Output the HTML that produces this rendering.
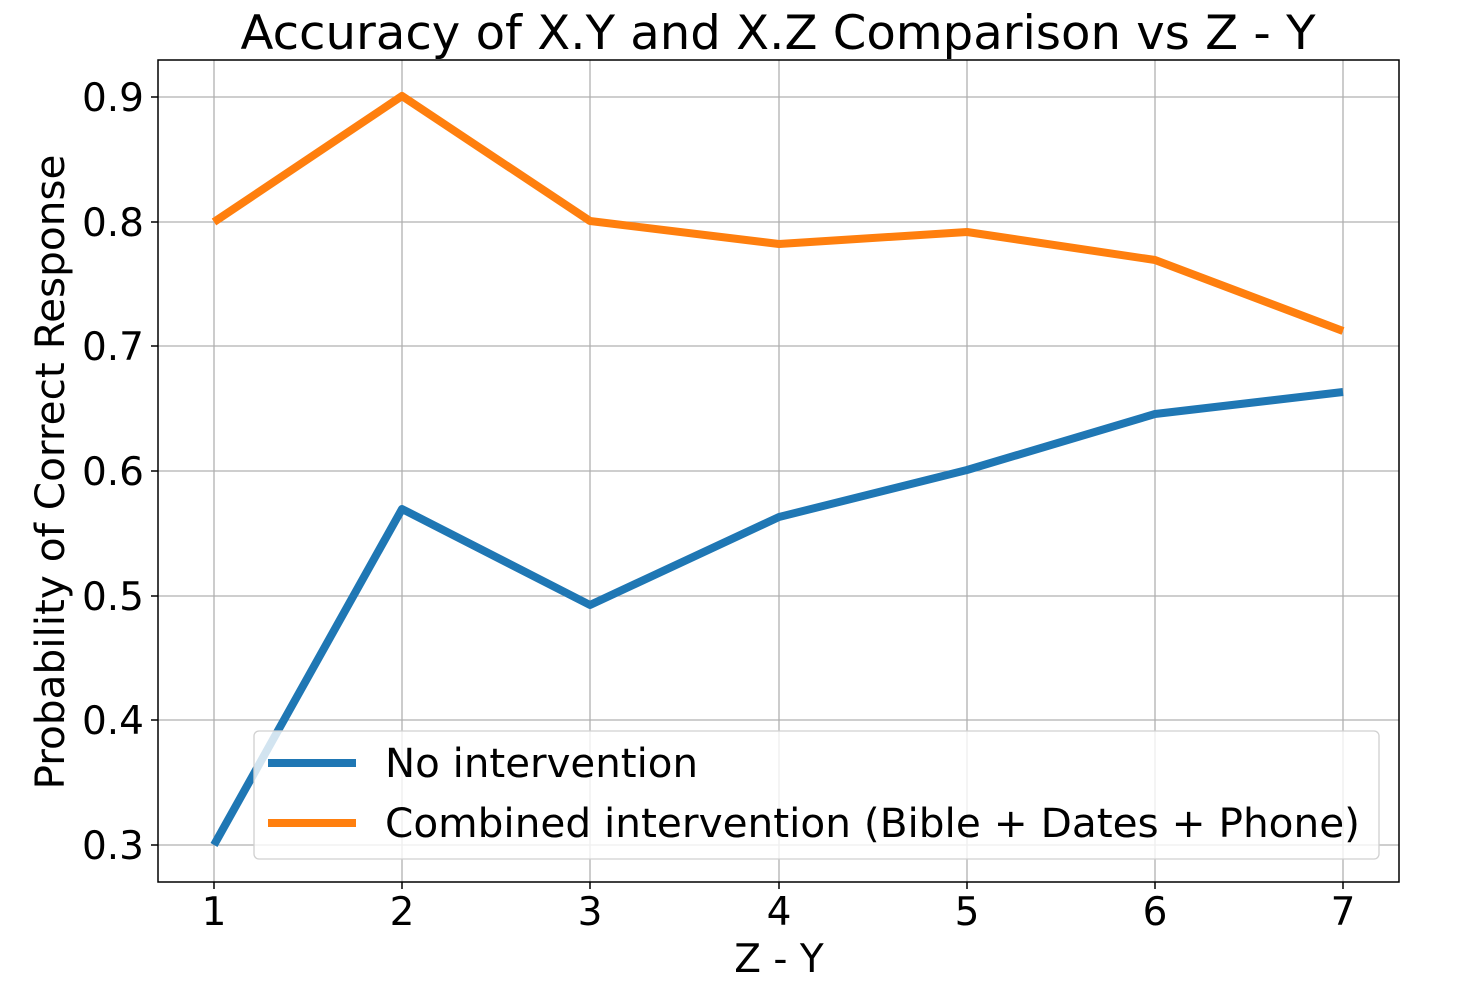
<!DOCTYPE html>
<html><head><meta charset="utf-8"><style>
html,body{margin:0;padding:0;background:#fff;}
svg{display:block;}
text{font-family:"DejaVu Sans","Liberation Sans",sans-serif;fill:#000;}
</style></head><body>
<svg width="1458" height="998" viewBox="0 0 1458 998" xmlns="http://www.w3.org/2000/svg">
<rect width="1458" height="998" fill="#fff"/>
<g stroke="#b0b0b0" stroke-width="1.3">
<line x1="214" y1="60" x2="214" y2="882"/><line x1="402" y1="60" x2="402" y2="882"/>
<line x1="590" y1="60" x2="590" y2="882"/><line x1="779" y1="60" x2="779" y2="882"/>
<line x1="967" y1="60" x2="967" y2="882"/><line x1="1155" y1="60" x2="1155" y2="882"/>
<line x1="1343" y1="60" x2="1343" y2="882"/>
<line x1="158" y1="97" x2="1399" y2="97"/><line x1="158" y1="222" x2="1399" y2="222"/>
<line x1="158" y1="346" x2="1399" y2="346"/><line x1="158" y1="471" x2="1399" y2="471"/>
<line x1="158" y1="596" x2="1399" y2="596"/><line x1="158" y1="720" x2="1399" y2="720"/>
<line x1="158" y1="845" x2="1399" y2="845"/>
</g>
<polyline fill="none" stroke="#1f77b4" stroke-width="8" stroke-linejoin="round" points="214,845 402,509 590,605 779,517 967,470 1155,414 1343,392"/>
<polyline fill="none" stroke="#ff7f0e" stroke-width="8" stroke-linejoin="round" points="214,222 402,96 590,221 779,244 967,232 1155,260 1343,331"/>
<rect x="158" y="60" width="1241" height="822" fill="none" stroke="#000" stroke-width="1.5"/>
<g stroke="#000" stroke-width="1.5">
<line x1="214" y1="882" x2="214" y2="889"/><line x1="402" y1="882" x2="402" y2="889"/>
<line x1="590" y1="882" x2="590" y2="889"/><line x1="779" y1="882" x2="779" y2="889"/>
<line x1="967" y1="882" x2="967" y2="889"/><line x1="1155" y1="882" x2="1155" y2="889"/>
<line x1="1343" y1="882" x2="1343" y2="889"/>
<line x1="151" y1="97" x2="158" y2="97"/><line x1="151" y1="222" x2="158" y2="222"/>
<line x1="151" y1="346" x2="158" y2="346"/><line x1="151" y1="471" x2="158" y2="471"/>
<line x1="151" y1="596" x2="158" y2="596"/><line x1="151" y1="720" x2="158" y2="720"/>
<line x1="151" y1="845" x2="158" y2="845"/>
</g>
<g font-size="39" text-anchor="middle">
<text x="214" y="925">1</text><text x="402" y="925">2</text><text x="590" y="925">3</text>
<text x="779" y="925">4</text><text x="967" y="925">5</text><text x="1155" y="925">6</text>
<text x="1343" y="925">7</text>
</g>
<g font-size="39" text-anchor="end">
<text x="144" y="111">0.9</text><text x="144" y="236">0.8</text><text x="144" y="360">0.7</text>
<text x="144" y="485">0.6</text><text x="144" y="610">0.5</text><text x="144" y="734">0.4</text>
<text x="144" y="859">0.3</text>
</g>
<text x="779" y="972" font-size="39" text-anchor="middle">Z - Y</text>
<text transform="translate(64,472) rotate(-90)" font-size="40.5" text-anchor="middle" textLength="635" lengthAdjust="spacingAndGlyphs">Probability of Correct Response</text>
<text x="778" y="49" font-size="47" text-anchor="middle" textLength="1075" lengthAdjust="spacingAndGlyphs">Accuracy of X.Y and X.Z Comparison vs Z - Y</text>
<rect x="254" y="731" width="1125" height="128" rx="5" fill="#fff" fill-opacity="0.8" stroke="#d0d0d0" stroke-width="1.3"/>
<line x1="268" y1="763" x2="356" y2="763" stroke="#1f77b4" stroke-width="8"/>
<line x1="268" y1="823" x2="356" y2="823" stroke="#ff7f0e" stroke-width="8"/>
<text x="385" y="777" font-size="40.5" textLength="313" lengthAdjust="spacingAndGlyphs">No intervention</text>
<text x="385" y="837" font-size="40.5" textLength="975" lengthAdjust="spacingAndGlyphs">Combined intervention (Bible + Dates + Phone)</text>
</svg>
</body></html>
